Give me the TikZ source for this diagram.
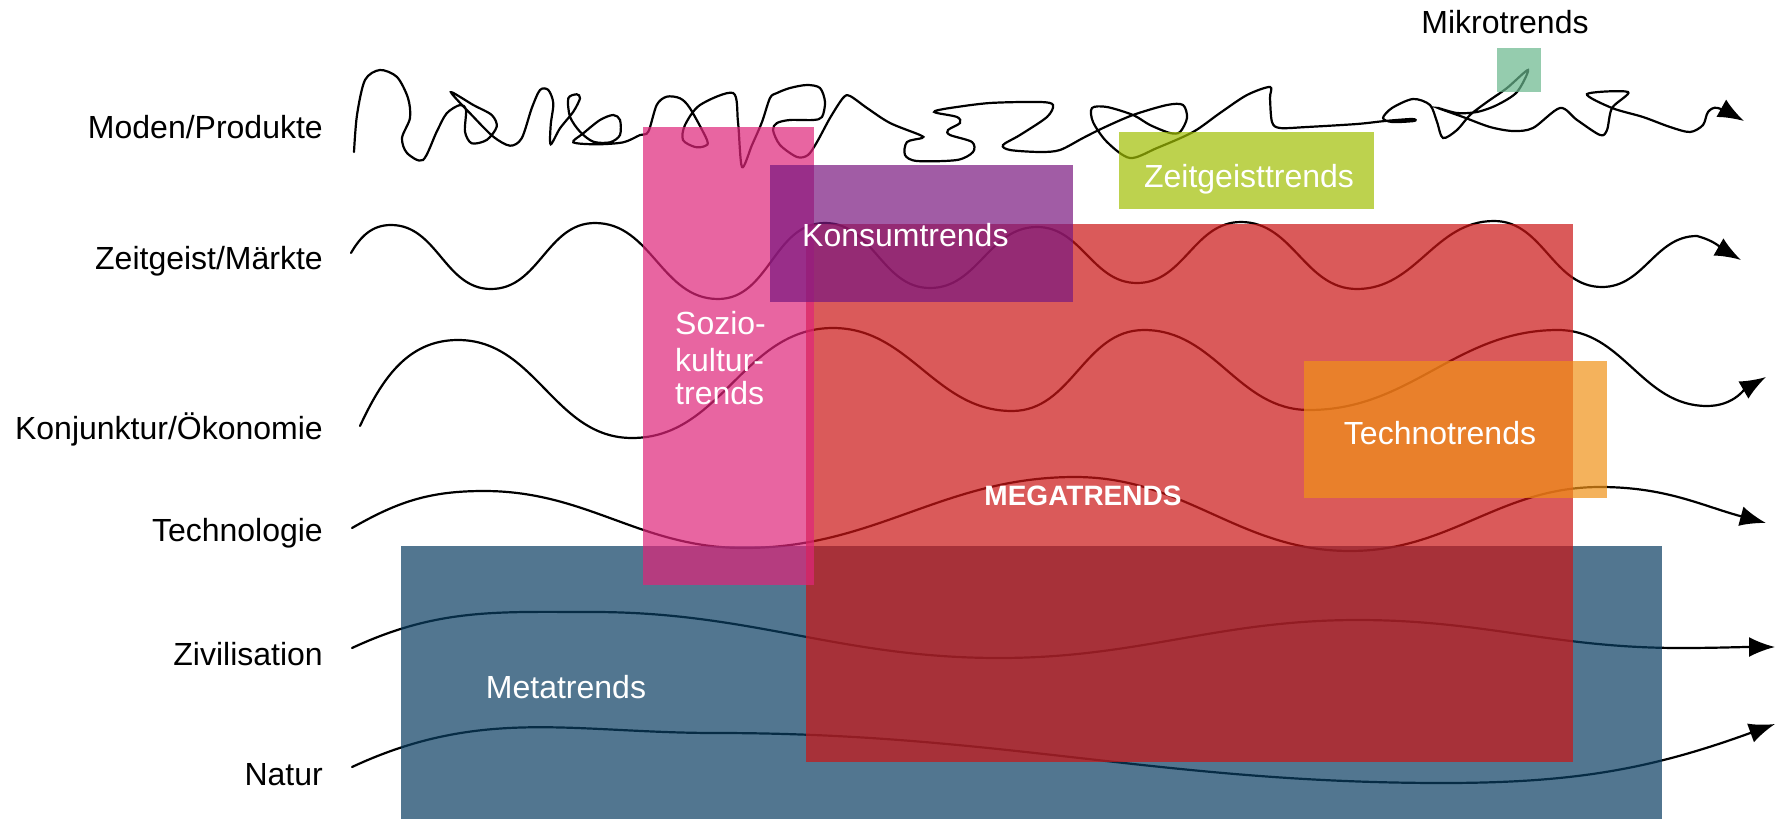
\documentclass[tikz,border=0pt]{standalone}
\usepackage{fontspec}
\setmainfont{Liberation Sans}
\usetikzlibrary{arrows.meta}
\definecolor{cBlue}{RGB}{11,62,98}
\definecolor{cRed}{RGB}{203,22,22}
\definecolor{cPink}{RGB}{223,38,122}
\definecolor{cPurple}{RGB}{122,25,128}
\definecolor{cOrange}{RGB}{240,146,25}
\definecolor{cLime}{RGB}{162,191,5}
\definecolor{cMint}{RGB}{105,183,141}
\begin{document}
\begin{tikzpicture}[x=1pt,y=-1pt,
  wave/.style={line width=2.2pt, black, line cap=round, -{Latex[length=26pt,width=20pt]}},
  trendbox/.style={opacity=0.71},
  lbl/.style={anchor=base east, inner sep=0pt, font=\fontsize{32}{36}\selectfont},
  wlbl/.style={inner sep=0pt, text=white, font=\fontsize{32}{36}\selectfont},
]
\useasboundingbox (0,0) rectangle (1781,819);

% ---- curves ----
\draw[wave] plot[smooth, tension=0.5] coordinates {
(354,152) (357,115) (365,80) (380,70) (397,77) (408,98) (410,118) (402,138)
(407,153) (423,160) (436.7,131.7) (446.7,113.3) (460,105) (466,110) (465,131.7)
(471.7,143.3) (486.7,140) (496.7,126.7) (491.7,115) (473.3,105) (451,92.3)
(473.3,116.7) (493.3,136.7) (510,145.7) (521.7,138.3) (531.7,108.3) (540,90)
(548.3,90) (553.3,103.3) (550.7,125) (550.7,144.3) (560,128.3) (573.3,111.7)
(580,98.3) (576.7,94.3) (568.3,98.3) (570,116.7) (580,131.7) (593.3,141.7)
(610,142.3) (620,135) (620,120) (613.3,115) (600,120) (583.3,133.3) (573.3,142.3)
(596.7,144.3) (623.3,142.3) (640,135) (648.3,131.7) (656.7,105) (666.7,96.7)
(680,98.3) (690,108.3) (707,140) (705,146) (695,147) (683,140) (685,125) (700,105)
(733,93) (738,122) (742,167) (752,145) (762,122) (770,98) (777,93) (790,88)
(807,85) (820,88) (825,102) (822,117) (813,120) (790,120) (777,123) (773,130)
(780,145) (797,157) (808,155) (817,142) (830,118) (843,98) (850,96) (867,108)
(890,123) (920,135) (922,138) (907,142) (905,155) (917,161) (957,160) (973,152)
(972,142) (950,135) (948,130) (960,123) (957,117) (937,113) (935,111) (950,108)
(990,103) (1040,102) (1053,105) (1047,117) (1020,135) (1003,145) (1010,150)
(1040,152) (1060,150) (1083,138) (1103,128) (1133,115) (1167,105) (1183,105)
(1187,118) (1180,132) (1170,133) (1150,125) (1133,115) (1107,107) (1092,108)
(1093,122) (1107,142) (1130,158) (1157,148) (1193,132) (1220,113) (1247,95)
(1270,87) (1270,98) (1272,122) (1280,128) (1307,127) (1357,124) (1385,121)
(1412,119) (1414,121) (1392,122) (1383,118) (1392,108) (1413,99) (1430,105)
(1437,122) (1443,138) (1457,130) (1470,115) (1487,102) (1507,88) (1528,70)
(1517,92) (1497,105) (1477,112) (1457,113) (1438,108) (1463,117) (1490,127)
(1513,131) (1533,128) (1560,108) (1577,120) (1600,135) (1607,130) (1612,108)
(1628,92) (1587,94) (1612,108) (1643,117) (1670,127) (1690,132) (1703,125)
(1708,112) (1718,108) (1744,121)};

\draw[wave] (351,253) to[out=60,in=180] (391,225) to[out=0,in=180] (491,289)
  to[out=0,in=180] (595,223) to[out=0,in=180] (718,299) to[out=0,in=180] (825,223)
  to[out=0,in=180] (930,288) to[out=0,in=180] (1037,227) to[out=0,in=180] (1137,283)
  to[out=0,in=180] (1241,222) to[out=0,in=180] (1357,289) to[out=0,in=180] (1494,221)
  to[out=0,in=180] (1602,287) to[out=0,in=180] (1697,236) to[out=-15,in=150] (1741,260);

\draw[wave] (360,426) to[out=65,in=180] (458,340) to[out=0,in=180] (632,438)
  to[out=0,in=180] (833,328) to[out=0,in=180] (1012,411) to[out=0,in=180] (1144,330)
  to[out=0,in=180] (1309,410) to[out=0,in=180] (1558,330) to[out=0,in=180] (1707,406)
  to[out=0,in=210] (1766,377);

\draw[wave] (352,528) to[out=30,in=180] (484,491) to[out=0,in=180] (744,548)
  to[out=0,in=180] (1075,477) to[out=0,in=180] (1350,551) to[out=0,in=180] (1600,487)
  to[out=0,in=165] (1766,523);

\draw[wave] (352,648) to[out=25,in=180] (593,612) to[out=0,in=180] (999,658)
  to[out=0,in=180] (1358,620) to[out=0,in=180] (1680,648) to[out=0,in=180] (1775,647);

\draw[wave] (352,767) to[out=25,in=180] (716,733) to[out=0,in=180] (1443,783)
  to[out=0,in=200] (1775,724);

% ---- trend boxes ----
\fill[cBlue, trendbox] (401,546) rectangle (1662,819);
\fill[cRed, trendbox] (806,224) rectangle (1573,762);
\fill[cPink, trendbox] (643,127) rectangle (814,585);
\fill[cPurple, trendbox] (770,165) rectangle (1073,302);
\fill[cOrange, trendbox] (1304,361) rectangle (1607,498);
\fill[cLime, trendbox] (1119,132) rectangle (1374,209);
\fill[cMint, trendbox] (1497,48) rectangle (1541,92);

% ---- labels ----
\node[lbl] (lmoden) at (323,138.5) {Moden/Produkte};
\node[lbl] (lzeit) at (323,269.5) {Zeitgeist/Märkte};
\node[lbl] (lkonj) at (323,439.5) {Konjunktur/Ökonomie};
\node[lbl] (ltech) at (323,541.5) {Technologie};
\node[lbl] (lziv) at (323,665.5) {Zivilisation};
\node[lbl] (lnat) at (323,785) {Natur};

\node[lbl, anchor=base] (tmikro) at (1505,33.5) {Mikrotrends};
\node[wlbl, anchor=base west] (tkonsum) at (802,246.5) {Konsumtrends};
\node[wlbl, anchor=base] (tzeit) at (1249,187.5) {Zeitgeisttrends};
\node[wlbl, anchor=base] (ttechno) at (1440,444.5) {Technotrends};
\node[wlbl, anchor=base, font=\fontsize{28}{32}\selectfont\bfseries] (tmega) at (1083,505) {MEGATRENDS};
\node[wlbl, anchor=base] (tmeta) at (566,698.5) {Metatrends};
\node[wlbl, anchor=base west] (tsoz1) at (675,334.5) {Sozio-};
\node[wlbl, anchor=base west] (tsoz2) at (675,371.5) {kultur-};
\node[wlbl, anchor=base west] (tsoz3) at (675,404.5) {trends};
\end{tikzpicture}
\end{document}
